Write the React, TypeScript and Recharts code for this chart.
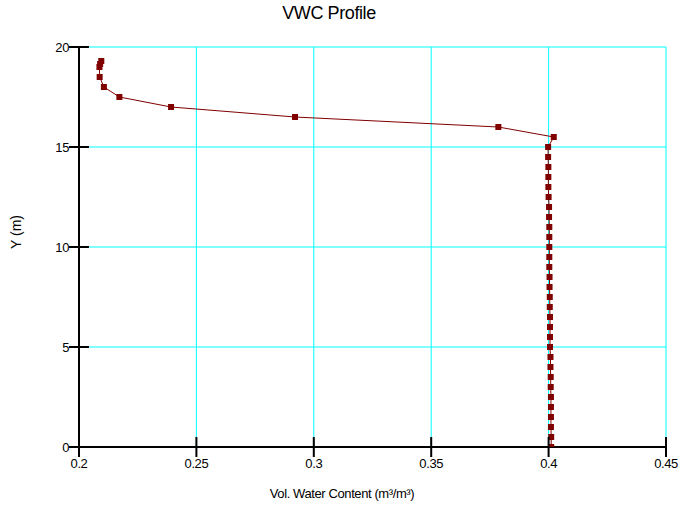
import React from 'react';
import { ScatterChart, Scatter, XAxis, YAxis, CartesianGrid } from 'recharts';

const TITLE = 'VWC Profile';
const X_LABEL = 'Vol. Water Content (m³/m³)';
const Y_LABEL = 'Y (m)';

const X_TICKS = [0.2, 0.25, 0.3, 0.35, 0.4, 0.45];
const X_TICK_LABELS = ['0.2', '0.25', '0.3', '0.35', '0.4', '0.45'];
const Y_TICKS = [0, 5, 10, 15, 20];

const DEPTHS = [
  0, 0.5, 1, 1.5, 2, 2.5, 3, 3.5, 4, 4.5, 5, 5.5, 6, 6.5, 7, 7.5, 8, 8.5, 9, 9.5,
  10, 10.5, 11, 11.5, 12, 12.5, 13, 13.5, 14, 14.5, 15, 15.5, 16, 16.5, 17, 17.5,
  18, 18.5, 19, 19.15, 19.3,
];
const VWC = [
  0.4011, 0.4011, 0.401, 0.401, 0.401, 0.401, 0.4009, 0.4009, 0.4008, 0.4008,
  0.4006, 0.4006, 0.4006, 0.4006, 0.4005, 0.4005, 0.4004, 0.4004, 0.4003, 0.4003,
  0.4003, 0.4003, 0.4003, 0.4002, 0.4002, 0.4, 0.3999, 0.3999, 0.3999, 0.3998,
  0.3998, 0.4022, 0.3786, 0.292, 0.2392, 0.2172, 0.2106, 0.2088, 0.2087, 0.209,
  0.2095,
];

const data = DEPTHS.map((y, i) => ({ x: VWC[i], y }));

const FONT = '"Liberation Sans", Arial, sans-serif';
const MARK = '#800000';

const PLOT_LEFT = 79;
const PLOT_BOTTOM = 447;

const XTick = (props: any) => {
  const { x, payload } = props;
  const idx = X_TICKS.indexOf(payload.value);
  return (
    <g>
      <line x1={x} y1={PLOT_BOTTOM - 10} x2={x} y2={PLOT_BOTTOM + 10} stroke="#000" strokeWidth={2} />
      <text x={x} y={PLOT_BOTTOM + 20.5} textAnchor="middle" fontSize={13} fontFamily={FONT} letterSpacing={-0.4} fill="#000">
        {idx >= 0 ? X_TICK_LABELS[idx] : String(payload.value)}
      </text>
    </g>
  );
};

const YTick = (props: any) => {
  const { y, payload } = props;
  return (
    <g>
      <line x1={PLOT_LEFT - 10} y1={y} x2={PLOT_LEFT + 10} y2={y} stroke="#000" strokeWidth={2} />
      <text x={PLOT_LEFT - 10} y={y + 4.5} textAnchor="end" fontSize={13} fontFamily={FONT} letterSpacing={-0.4} fill="#000">
        {String(payload.value)}
      </text>
    </g>
  );
};

const Square = (props: any) => {
  const { cx, cy } = props;
  return <rect x={cx - 3} y={cy - 3} width={6} height={6} fill={MARK} />;
};

export default function App() {
  return (
    <div style={{ position: 'absolute', left: 0, top: 0, width: 680, height: 506, background: '#fff' }}>
      <div
        style={{
          position: 'absolute',
          left: 0,
          top: 3,
          width: 658,
          textAlign: 'center',
          fontFamily: FONT,
          fontSize: 18,
          letterSpacing: -0.4,
          color: '#000',
          lineHeight: '20px',
        }}
      >
        {TITLE}
      </div>
      <ScatterChart width={680} height={506} margin={{ top: 47, right: 14, left: 0, bottom: 0 }}>
        <CartesianGrid stroke="#00ffff" strokeWidth={1} horizontalValues={Y_TICKS} verticalValues={X_TICKS} />
        <Scatter
          data={data}
          line={{ stroke: MARK, strokeWidth: 1 }}
          lineType="joint"
          shape={<Square />}
          isAnimationActive={false}
        />
        <XAxis
          type="number"
          dataKey="x"
          domain={[0.2, 0.45]}
          ticks={X_TICKS}
          height={59}
          tickSize={10}
          tickMargin={0}
          tickLine={false}
          axisLine={{ stroke: '#000', strokeWidth: 2 }}
          tick={<XTick />}
          allowDataOverflow
          label={{
            content: () => (
              <text x={342} y={498} textAnchor="middle" fontSize={13} fontFamily={FONT} letterSpacing={-0.4} fill="#000">
                {X_LABEL}
              </text>
            ),
          }}
        />
        <YAxis
          type="number"
          dataKey="y"
          domain={[0, 20]}
          ticks={Y_TICKS}
          width={79}
          tickSize={10}
          tickMargin={0}
          tickLine={false}
          axisLine={{ stroke: '#000', strokeWidth: 2 }}
          tick={<YTick />}
          allowDataOverflow
          label={{
            content: () => (
              <text
                x={21}
                y={232}
                transform="rotate(-90 21 232)"
                textAnchor="middle"
                fontSize={14}
                fontFamily={FONT}
                fill="#000"
              >
                {Y_LABEL}
              </text>
            ),
          }}
        />
      </ScatterChart>
    </div>
  );
}
